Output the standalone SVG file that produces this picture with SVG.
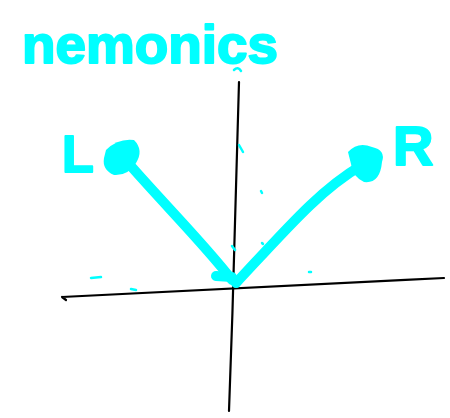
<svg xmlns="http://www.w3.org/2000/svg" width="450" height="418" viewBox="0 0 450 418">
<style>
.ink{fill:none;stroke:#000;stroke-width:2.2;stroke-linecap:round;stroke-linejoin:round}
.cy{fill:none;stroke:#00FFFF;stroke-width:10;stroke-linecap:round;stroke-linejoin:round}
.sp{fill:none;stroke:#00FFFF;stroke-width:2.5;stroke-linecap:round}
.lbl{fill:#00FFFF;stroke:#00FFFF;stroke-width:2;stroke-linejoin:round;font-family:"Liberation Sans",Arial,sans-serif;font-weight:bold}
</style>
<rect width="450" height="418" fill="#fff"/>
<text id="title" class="lbl" x="22" y="63" font-size="54" textLength="256" lengthAdjust="spacingAndGlyphs">nemonics</text>
<g id="axes">
<path class="ink" d="M239,82 C237,180 233,300 229,411"/>
<path class="ink" d="M62,297 C150,293 300,285 444,278 M62,297 L66,300"/>
<path class="sp" d="M234,70 Q238,66 241,71"/>
</g>
<g id="connectors">
<path class="cy" d="M130,165 C165,205 205,245 232,280"/>
<path class="cy" d="M362,165 C320,190 290,225 236,283"/>
<path class="cy" d="M216,276 L232,277"/>
</g>
<g id="nodeL">
<path d="M106,150 Q118,138 134,140 Q144,150 136,163 Q128,176 114,175 Q102,170 104,158 Z" fill="#00FFFF"/>
<text class="lbl" x="62" y="172" font-size="52">L</text>
</g>
<g id="nodeR">
<path d="M348,152 Q358,141 372,147 Q386,150 382,162 Q380,184 364,182 Q352,176 351,164 Z" fill="#00FFFF"/>
<text class="lbl" x="393" y="165" font-size="56">R</text>
</g>
<g id="specks">
<path class="sp" d="M91,278 L101,277"/>
<path class="sp" d="M131,289 L136,290"/>
<path class="sp" d="M239,145 L243,152"/>
<path class="sp" d="M261,191 L262,193"/>
<path class="sp" d="M262,243 L263,244"/>
<path class="sp" d="M232,246 L235,250"/>
<path class="sp" d="M309,272 L311,272"/>
</g>
</svg>
